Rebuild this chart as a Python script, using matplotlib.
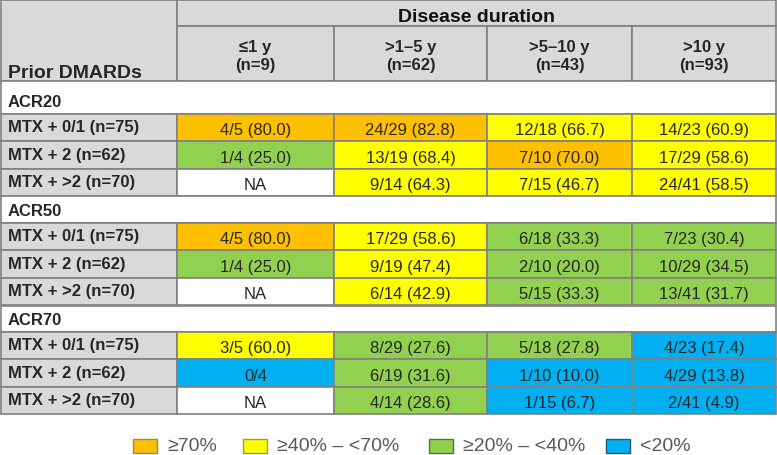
import matplotlib.pyplot as plt
from matplotlib.patches import Rectangle

# ---------- Données ---------- #
durations = ["≤1 y", ">1–5 y", ">5–10 y", ">10 y"]
duration_n = [9, 62, 43, 93]
dmard_rows = ["MTX + 0/1 (n=75)", "MTX + 2 (n=62)", "MTX + >2 (n=70)"]
outcomes = ["ACR20", "ACR50", "ACR70"]

# numérateurs / dénominateurs (None = NA)
acr20_num = [[4, 24, 12, 14], [1, 13, 7, 17], [None, 9, 7, 24]]
acr20_den = [[5, 29, 18, 23], [4, 19, 10, 29], [None, 14, 15, 41]]
acr50_num = [[4, 17, 6, 7], [1, 9, 2, 10], [None, 6, 5, 13]]
acr50_den = [[5, 29, 18, 23], [4, 19, 10, 29], [None, 14, 15, 41]]
acr70_num = [[3, 8, 5, 4], [0, 6, 1, 4], [None, 4, 1, 2]]
acr70_den = [[5, 29, 18, 23], [4, 19, 10, 29], [None, 14, 15, 41]]

legend_labels = ["≥70%", "≥40% – <70%", "≥20% – <40%", "<20%"]
legend_colors = ["#FFC000", "#FFFF00", "#92D050", "#00B0F0"]
legend_edges = ["#9c8a55", "#8fa24a", "#4e7a2c", "#1f5a80"]

# ---------- Mise en page (pixels) ---------- #
col_edges = [1, 177, 334, 487, 632, 776]
head_top, head_mid, head_bot = 1, 27, 82
group_tops = [82, 197, 307]
group_h = [33, 27, 26]
row_h = 27.3

GRAY = "#D9D9D9"
EDGE = "#808080"
TXT = "#262626"
LW = 1.2

plt.rcParams["font.family"] = ["Liberation Sans", "DejaVu Sans"]

fig = plt.figure(figsize=(7.77, 4.56), dpi=100)
ax = fig.add_axes([0, 0, 1, 1])
ax.set_xlim(0, 777)
ax.set_ylim(456, 0)
ax.axis("off")


def cell(x0, y0, x1, y1, fc):
    ax.add_patch(Rectangle((x0, y0), x1 - x0, y1 - y0, facecolor=fc,
                           edgecolor=EDGE, linewidth=LW))


def color_for(pct):
    if pct >= 70:
        return legend_colors[0]
    if pct >= 40:
        return legend_colors[1]
    if pct >= 20:
        return legend_colors[2]
    return legend_colors[3]


# ---------- En-tête ---------- #
cell(col_edges[0], head_top, col_edges[1], head_bot, GRAY)
ax.text(8, 78, "Prior DMARDs", fontsize=14, fontweight="bold", color=TXT,
        va="baseline", ha="left")
cell(col_edges[1], head_top, col_edges[-1], head_mid, GRAY)
ax.text((col_edges[1] + col_edges[-1]) / 2, 22, "Disease duration",
        fontsize=14, fontweight="bold", color="#111111", ha="center",
        va="baseline")
for j, (lab, n) in enumerate(zip(durations, duration_n)):
    x0, x1 = col_edges[j + 1], col_edges[j + 2]
    cell(x0, head_mid, x1, head_bot, GRAY)
    xc = (x0 + x1) / 2
    ax.text(xc, 52, lab, fontsize=12, fontweight="bold", color=TXT,
            ha="center", va="baseline")
    ax.text(xc, 70, f"(n={n})", fontsize=12, fontweight="bold", color=TXT,
            ha="center", va="baseline")

# ---------- Corps ---------- #
blocks = [(acr20_num, acr20_den), (acr50_num, acr50_den),
          (acr70_num, acr70_den)]
for g, (name, (nums, dens)) in enumerate(zip(outcomes, blocks)):
    gy = group_tops[g]
    gb = gy + group_h[g]
    cell(col_edges[0], gy, col_edges[-1], gb, "white")
    ax.text(8, gb - 8, name, fontsize=12, fontweight="bold", color=TXT,
            va="baseline", ha="left")
    for i, lab in enumerate(dmard_rows):
        y0 = gb + i * row_h
        y1 = y0 + row_h
        cell(col_edges[0], y0, col_edges[1], y1, GRAY)
        ax.text(8, y1 - 10, lab, fontsize=12, fontweight="bold", color=TXT,
                va="baseline", ha="left")
        for j in range(len(durations)):
            x0, x1 = col_edges[j + 1], col_edges[j + 2]
            n, d = nums[i][j], dens[i][j]
            if n is None:
                fc, s = "white", "NA"
            else:
                pct = 100 * n / d
                fc = color_for(pct)
                s = f"{n}/{d}" if n == 0 else f"{n}/{d} ({pct:.1f})"
            cell(x0, y0, x1, y1, fc)
            ax.text((x0 + x1) / 2, y1 - 7, s, fontsize=12, color=TXT,
                    ha="center", va="baseline")

# ---------- Légende ---------- #
leg_x = [133, 243, 429, 606]
for x, lab, fc, ec in zip(leg_x, legend_labels, legend_colors, legend_edges):
    ax.add_patch(Rectangle((x, 440), 24, 14, facecolor=fc, edgecolor=ec,
                           linewidth=1.0))
    ax.text(x + 34, 447, lab, fontsize=14, color="#595959", ha="left",
            va="center")

fig.savefig("out.png", dpi=100)
